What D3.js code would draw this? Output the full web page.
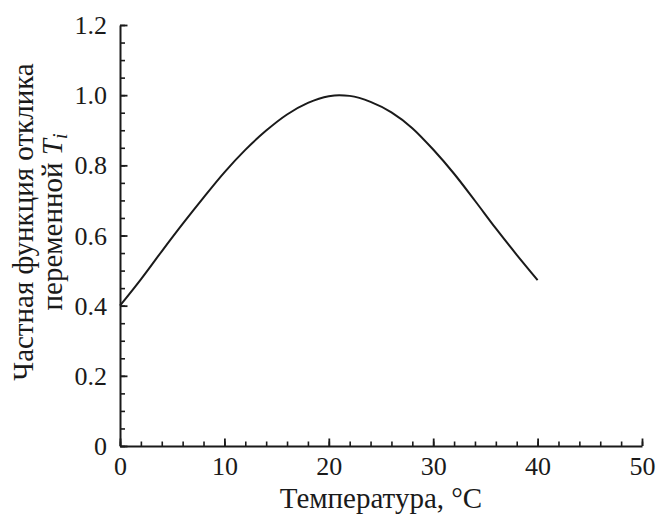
<!DOCTYPE html>
<html>
<head>
<meta charset="utf-8">
<script src="https://cdn.jsdelivr.net/npm/d3@7"></script>
<style>
  html, body { margin: 0; padding: 0; background: #fff; }
  svg { display: block; }
  text { font-family: "Liberation Serif", "Times New Roman", serif; fill: #1a1a1a; }
</style>
</head>
<body>
<svg id="chart" width="657" height="514"></svg>
<script>
// Temperature, °C
const temperature = [0, 2, 4, 6, 8, 10, 12, 14, 16, 18, 20, 21, 22, 24, 26, 28, 30, 32, 34, 36, 38, 40];
// Partial response function of variable T_i
const response = [0.40, 0.475, 0.555, 0.633, 0.708, 0.78, 0.844, 0.899, 0.945, 0.978, 0.997, 1.0, 0.998, 0.981, 0.951, 0.906, 0.845, 0.776, 0.699, 0.62, 0.545, 0.473];

const xMajorTicks = [0, 10, 20, 30, 40, 50];
const yMajorTicks = [0, 0.2, 0.4, 0.6, 0.8, 1.0, 1.2];

const svg = d3.select("#chart");
const plotLeft = 120, plotRight = 642, plotTop = 25, plotBottom = 446;

const x = d3.scaleLinear().domain([0, 50]).range([plotLeft, plotRight]);
const y = d3.scaleLinear().domain([0, 1.2]).range([plotBottom, plotTop]);

const ink = "#1a1a1a";
const tickFont = 26, titleFont = 29;

// minor ticks
const xMinor = d3.range(0, 50.001, 2);
const yMinor = d3.range(0, 1.2001, 0.05);

svg.append("g")
  .attr("transform", `translate(0,${plotBottom})`)
  .call(d3.axisBottom(x).tickValues(xMinor).tickSize(-4.5).tickFormat(""))
  .call(g => g.select(".domain").remove())
  .call(g => g.selectAll("line").attr("stroke", ink).attr("stroke-width", 1.6));

svg.append("g")
  .attr("transform", `translate(${plotLeft},0)`)
  .call(d3.axisLeft(y).tickValues(yMinor).tickSize(-5).tickFormat(""))
  .call(g => g.select(".domain").remove())
  .call(g => g.selectAll("line").attr("stroke", ink).attr("stroke-width", 1.6));

// major ticks and labels
svg.append("g")
  .attr("transform", `translate(0,${plotBottom})`)
  .call(d3.axisBottom(x).tickValues(xMajorTicks).tickSizeInner(-7.5).tickSizeOuter(0)
    .tickPadding(11).tickFormat(d3.format("d")))
  .call(g => g.select(".domain").attr("stroke", ink).attr("stroke-width", 2))
  .call(g => g.selectAll("line").attr("stroke", ink).attr("stroke-width", 1.8))
  .call(g => g.selectAll("text").attr("font-size", tickFont).attr("fill", ink)
    .attr("font-family", "'Liberation Serif', serif").attr("dy", "0.71em"));

svg.append("g")
  .attr("transform", `translate(${plotLeft},0)`)
  .call(d3.axisLeft(y).tickValues(yMajorTicks).tickSizeInner(-7.5).tickSizeOuter(0)
    .tickPadding(13).tickFormat(d => d === 0 ? "0" : d3.format(".1f")(d)))
  .call(g => g.select(".domain").attr("stroke", ink).attr("stroke-width", 2))
  .call(g => g.selectAll("line").attr("stroke", ink).attr("stroke-width", 1.8))
  .call(g => g.selectAll("text").attr("font-size", tickFont).attr("fill", ink)
    .attr("font-family", "'Liberation Serif', serif").attr("dy", "0.33em"));

// response curve
const line = d3.line()
  .x((d, i) => x(temperature[i]))
  .y(d => y(d))
  .curve(d3.curveMonotoneX);

svg.append("path")
  .datum(response)
  .attr("fill", "none")
  .attr("stroke", ink)
  .attr("stroke-width", 2)
  .attr("d", line);

// axis titles
svg.append("text")
  .attr("x", (plotLeft + plotRight) / 2)
  .attr("y", 508)
  .attr("text-anchor", "middle")
  .attr("font-size", titleFont)
  .text("Температура, °C");

const yTitle = svg.append("text")
  .attr("transform", "translate(0,222) rotate(-90)")
  .attr("text-anchor", "middle")
  .attr("font-size", titleFont);

yTitle.append("tspan")
  .attr("x", 0).attr("y", 33)
  .text("Частная функция отклика");

const line2 = yTitle.append("tspan").attr("x", 0).attr("y", 62);
line2.append("tspan").text("переменной ");
line2.append("tspan").attr("font-style", "italic").text("T");
yTitle.append("tspan")
  .attr("font-style", "italic")
  .attr("font-size", 20)
  .attr("dy", 5)
  .text("i");
</script>
</body>
</html>
